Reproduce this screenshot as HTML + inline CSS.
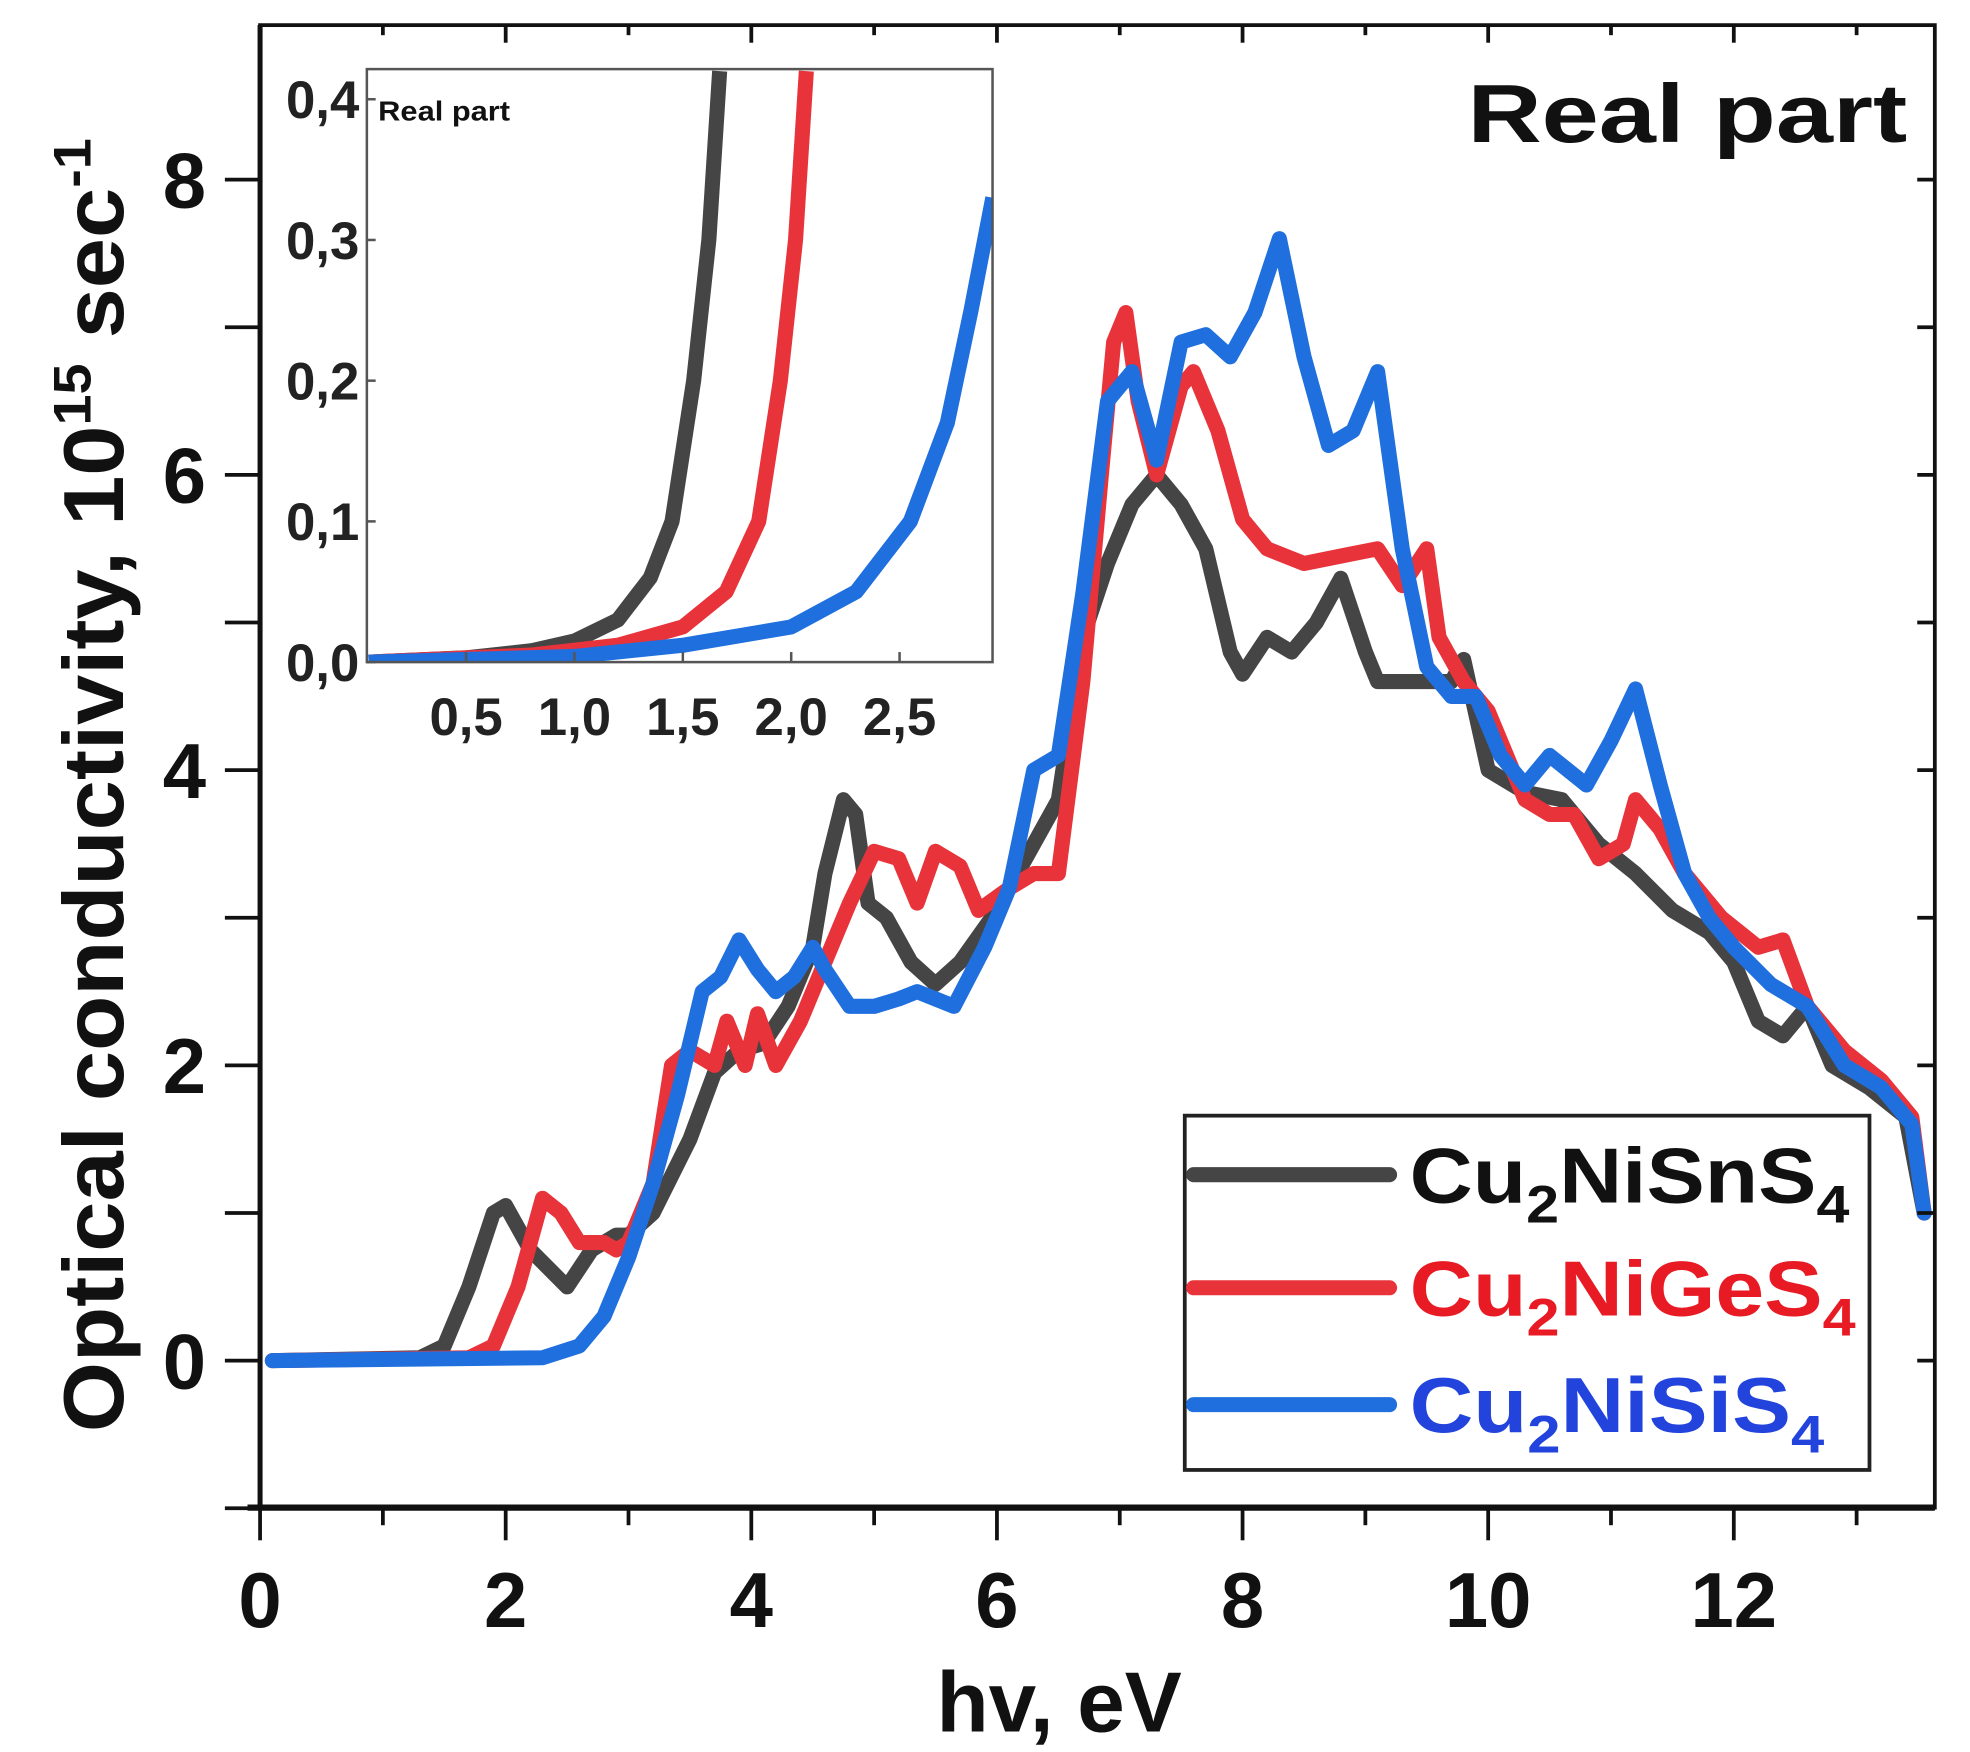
<!DOCTYPE html>
<html><head><meta charset="utf-8"><style>
html,body{margin:0;padding:0;background:#fff;}
svg{display:block;}
text{font-family:"Liberation Sans Narrow","Liberation Sans",sans-serif;font-weight:bold;}
</style></head><body>
<svg id="chart" xmlns="http://www.w3.org/2000/svg" width="1970" height="1752" viewBox="0 0 1568 1394.5" preserveAspectRatio="none">
<rect x="0" y="0" width="1568" height="1394.5" fill="#fff"/>
<g id="main"></g>
<g id="inset"></g>
</svg>
<script>
// ---- main chart data ----
const xTicks = [0,2,4,6,8,10,12];
const yTicks = [0,2,4,6,8];
const snX = [0.1,1.3,1.5,1.7,1.9,2.0,2.2,2.5,2.7,2.9,3.0,3.2,3.5,3.7,3.9,4.1,4.3,4.5,4.6,4.75,4.85,4.95,5.1,5.3,5.5,5.7,6.0,6.3,6.5,6.7,6.9,7.1,7.3,7.5,7.7,7.9,8.0,8.2,8.4,8.6,8.8,9.0,9.1,9.3,9.5,9.7,9.8,10.0,10.3,10.6,10.9,11.2,11.5,11.8,12.0,12.2,12.4,12.6,12.8,13.1,13.4,13.55];
const snY = [0,0.02,0.1,0.5,1.0,1.05,0.75,0.5,0.75,0.85,0.85,1.0,1.5,1.95,2.1,2.15,2.4,2.8,3.3,3.8,3.7,3.1,3.0,2.7,2.55,2.7,3.05,3.5,3.8,4.9,5.4,5.8,6.0,5.8,5.5,4.8,4.65,4.9,4.8,5.0,5.3,4.8,4.6,4.6,4.6,4.6,4.75,4.0,3.85,3.8,3.5,3.3,3.05,2.9,2.7,2.3,2.2,2.4,2.0,1.85,1.65,1.0];
const geX = [0.1,1.7,1.9,2.1,2.3,2.45,2.6,2.8,2.9,3.0,3.2,3.35,3.5,3.7,3.8,3.95,4.05,4.2,4.4,4.6,4.8,5.0,5.2,5.35,5.5,5.7,5.85,6.1,6.3,6.5,6.7,6.85,6.95,7.05,7.15,7.3,7.5,7.6,7.8,8.0,8.2,8.5,8.8,9.1,9.3,9.5,9.6,9.8,10.0,10.3,10.5,10.7,10.9,11.1,11.2,11.4,11.6,11.9,12.2,12.4,12.6,12.9,13.2,13.45,13.55];
const geY = [0,0.02,0.1,0.5,1.1,1.0,0.8,0.8,0.75,0.8,1.2,2.0,2.1,2.0,2.3,2.0,2.35,2.0,2.3,2.7,3.1,3.45,3.4,3.1,3.45,3.35,3.05,3.2,3.3,3.3,4.6,6.0,6.9,7.1,6.5,6.0,6.6,6.7,6.3,5.7,5.5,5.4,5.45,5.5,5.25,5.5,4.9,4.6,4.4,3.8,3.7,3.7,3.4,3.5,3.8,3.6,3.3,3.0,2.8,2.85,2.4,2.1,1.9,1.65,1.0];
const siX = [0.1,2.3,2.6,2.8,3.0,3.2,3.4,3.6,3.75,3.9,4.05,4.2,4.35,4.5,4.6,4.8,5.0,5.2,5.35,5.5,5.65,5.9,6.1,6.3,6.5,6.7,6.9,7.1,7.3,7.5,7.7,7.9,8.1,8.3,8.5,8.7,8.9,9.1,9.3,9.5,9.7,9.9,10.1,10.3,10.5,10.8,11.0,11.2,11.4,11.6,11.8,12.0,12.3,12.6,12.9,13.2,13.45,13.55];
const siY = [0,0.02,0.1,0.3,0.7,1.2,1.8,2.5,2.6,2.85,2.65,2.5,2.6,2.8,2.65,2.4,2.4,2.45,2.5,2.45,2.4,2.8,3.2,4.0,4.1,5.2,6.5,6.7,6.1,6.9,6.95,6.8,7.1,7.6,6.8,6.2,6.3,6.7,5.5,4.7,4.5,4.5,4.1,3.9,4.1,3.9,4.2,4.55,3.9,3.3,3.0,2.8,2.55,2.4,2.0,1.85,1.6,1.0];
// ---- inset data ----
const inXTicks = [0.5,1.0,1.5,2.0,2.5];
const inXLabels = ["0,5","1,0","1,5","2,0","2,5"];
const inYTicks = [0,0.1,0.2,0.3,0.4];
const inYLabels = ["0,0","0,1","0,2","0,3","0,4"];
const inSnX = [0.05,0.5,0.8,1.0,1.2,1.35,1.45,1.55,1.62,1.67];
const inSnY = [0,0.003,0.008,0.015,0.03,0.06,0.1,0.2,0.3,0.42];
const inGeX = [0.05,0.8,1.2,1.5,1.7,1.85,1.95,2.02,2.07];
const inGeY = [0,0.005,0.012,0.025,0.05,0.1,0.2,0.3,0.42];
const inSiX = [0.05,1.0,1.5,2.0,2.3,2.55,2.72,2.83,2.93];
const inSiY = [0,0.004,0.012,0.025,0.05,0.1,0.17,0.25,0.33];

const NS="http://www.w3.org/2000/svg";
function mk(parent,tag,attrs,txt){const e=document.createElementNS(NS,tag);for(const k in attrs)e.setAttribute(k,attrs[k]);if(txt!==undefined)e.textContent=txt;parent.appendChild(e);return e;}
const main=document.getElementById('main');


const L=207,R=1540,T=20,B=1200;
const sx=v=>207+v*97.75, sy=v=>1083-v*117.5;
const defs=mk(main,'defs',{});
const cp=mk(defs,'clipPath',{id:'mc'});mk(cp,'rect',{x:L,y:T,width:R-L,height:B-T});
const cp2=mk(defs,'clipPath',{id:'ic'});mk(cp2,'rect',{x:292,y:55,width:498,height:472});
const cols={sn:'#454545',ge:'#e8333b',si:'#1f6fde'};
function path(xs,ys,fx,fy){return xs.map((x,i)=>(i?'L':'M')+fx(x).toFixed(1)+' '+fy(ys[i]).toFixed(1)).join(' ');}
const gs=mk(main,'g',{'clip-path':'url(#mc)'});
let p;
p=mk(gs,'path',{d:path(snX,snY,sx,sy),fill:'none',stroke:cols.sn,'stroke-width':12,'stroke-linejoin':'round','stroke-linecap':'round'});


p=mk(gs,'path',{d:path(geX,geY,sx,sy),fill:'none',stroke:cols.ge,'stroke-width':12,'stroke-linejoin':'round','stroke-linecap':'round'});


p=mk(gs,'path',{d:path(siX,siY,sx,sy),fill:'none',stroke:cols.si,'stroke-width':12,'stroke-linejoin':'round','stroke-linecap':'round'});


const fr=mk(main,'rect',{x:L,y:T,width:R-L,height:B-T,fill:'none',stroke:'#111','stroke-width':3});


mk(main,'line',{x1:L-10,y1:B,x2:R,y2:B,stroke:'#111','stroke-width':5});
mk(main,'line',{x1:L,y1:T,x2:L,y2:B,stroke:'#111','stroke-width':4});
for(let v=0;v<=13;v++){mk(main,'line',{x1:sx(v),y1:B,x2:sx(v),y2:B+(v%2?14:26),stroke:'#111','stroke-width':3});
 mk(main,'line',{x1:sx(v),y1:T,x2:sx(v),y2:T+(v%2?8:14),stroke:'#111','stroke-width':3});}
xTicks.forEach(v=>{const t=mk(main,'text',{x:sx(v),y:1295,'font-size':62,'text-anchor':'middle',fill:'#111'},String(v));
 
 });
for(let v=-1;v<=8;v++){const y=sy(v);mk(main,'line',{x1:L-28,y1:y,x2:L,y2:y,stroke:'#111','stroke-width':3});
 mk(main,'line',{x1:R-14,y1:y,x2:R,y2:y,stroke:'#111','stroke-width':3});}
yTicks.forEach(v=>{const t=mk(main,'text',{x:164,y:sy(v)+22,'font-size':62,'text-anchor':'end',fill:'#111'},String(v));
 
 });
let t=mk(main,'text',{x:843,y:1378,'font-size':68,'text-anchor':'middle',fill:'#111'},'hv, eV');


t=mk(main,'text',{transform:'translate(98,625) rotate(-90)','font-size':68,'text-anchor':'middle',fill:'#111',textLength:1030,lengthAdjust:'spacingAndGlyphs'});


t.innerHTML='Optical conductivity, 10<tspan dy="-26" font-size="42">15</tspan><tspan dy="26"> sec</tspan><tspan dy="-26" font-size="42">-1</tspan>';
t=mk(main,'text',{x:1168,y:113,'font-size':66,fill:'#111',textLength:350,lengthAdjust:'spacingAndGlyphs'},'Real part');


const lg=mk(main,'g',{});


mk(lg,'rect',{x:943,y:888,width:545,height:282,fill:'#fff',stroke:'#222','stroke-width':3});
const leg=[['Cu','NiSnS',cols.sn,'#111',935,350],['Cu','NiGeS',cols.ge,'#e81a24',1025,355],['Cu','NiSiS',cols.si,'#2244dd',1118,330]];
leg.forEach((e,i)=>{const g=mk(lg,'g',{});
 
 
 mk(g,'line',{x1:950,y1:e[4],x2:1106,y2:e[4],stroke:e[2],'stroke-width':12,'stroke-linecap':'round'});
 const tx=mk(g,'text',{x:1122,y:e[4]+22,'font-size':62,fill:e[3],textLength:e[5],lengthAdjust:'spacingAndGlyphs'});
 tx.innerHTML=e[0]+'<tspan dy="16" font-size="42">2</tspan><tspan dy="-16">'+e[1]+'</tspan><tspan dy="16" font-size="42">4</tspan>';});
// ---- inset ----
const ins=document.getElementById('inset');


const ix=v=>371+(v-0.5)*172.5, iy=v=>527-v*1120;
mk(ins,'rect',{x:292,y:55,width:498,height:472,fill:'#fff',stroke:'none'});
const gi=mk(ins,'g',{'clip-path':'url(#ic)'});
p=mk(gi,'path',{d:path(inSnX,inSnY,ix,iy),fill:'none',stroke:cols.sn,'stroke-width':12,'stroke-linejoin':'round'});


p=mk(gi,'path',{d:path(inGeX,inGeY,ix,iy),fill:'none',stroke:cols.ge,'stroke-width':12,'stroke-linejoin':'round'});


p=mk(gi,'path',{d:path(inSiX,inSiY,ix,iy),fill:'none',stroke:cols.si,'stroke-width':12,'stroke-linejoin':'round'});


mk(ins,'rect',{x:292,y:55,width:498,height:472,fill:'none',stroke:'#555','stroke-width':2});
inXTicks.forEach((v,i)=>{mk(ins,'line',{x1:ix(v),y1:527,x2:ix(v),y2:519,stroke:'#555','stroke-width':2});
 const tt=mk(ins,'text',{x:ix(v),y:585,'font-size':42,'text-anchor':'middle',fill:'#222'},inXLabels[i]);
 
 });
inYTicks.forEach((v,i)=>{mk(ins,'line',{x1:292,y1:iy(v),x2:299,y2:iy(v),stroke:'#555','stroke-width':2});
 const tt=mk(ins,'text',{x:286,y:iy(v)+15,'font-size':42,'text-anchor':'end',fill:'#222'},inYLabels[i]);
 
 });
t=mk(ins,'text',{x:301,y:96,'font-size':22,fill:'#111',textLength:105,lengthAdjust:'spacingAndGlyphs'},'Real part');


</script>
</body></html>
